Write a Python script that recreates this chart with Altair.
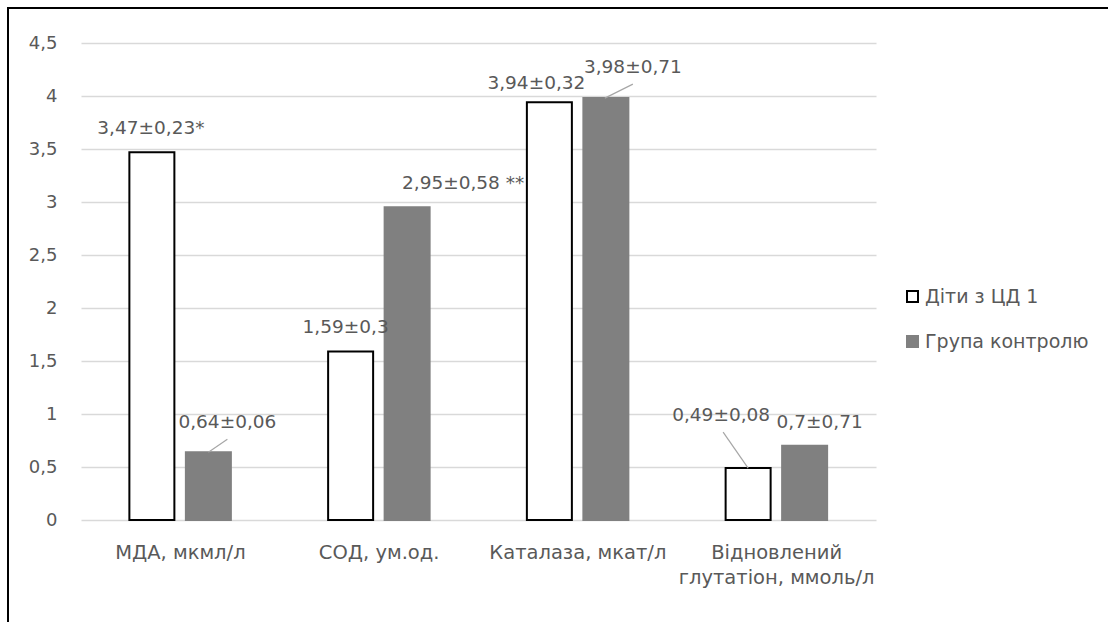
import altair as alt
import pandas as pd

# ---- data -------------------------------------------------------------
categories = ["МДА, мкмл/л", "СОД, ум.од.", "Каталаза, мкат/л", "Відновлений\nглутатіон, ммоль/л"]
series_names = ["Діти з ЦД 1", "Група контролю"]
patients = [3.47, 1.59, 3.94, 0.49]
control = [0.64, 2.95, 3.98, 0.70]
patients_text = ["3,47±0,23*", "1,59±0,3", "3,94±0,32", "0,49±0,08"]
control_text = ["0,64±0,06", "2,95±0,58 **", "3,98±0,71", "0,7±0,71"]
y_ticks = [0, 0.5, 1, 1.5, 2, 2.5, 3, 3.5, 4, 4.5]

# ---- geometry ---------------------------------------------------------
W, H = 795, 477
PAD = {"left": 81, "top": 43, "right": 232, "bottom": 102}
TOTAL_W = W + PAD["left"] + PAD["right"]
TOTAL_H = H + PAD["top"] + PAD["bottom"]
Y_MAX = 4.5
PX_X = W / len(categories)   # pixels per category slot on the x scale
PX_Y = H / Y_MAX             # pixels per unit on the y scale

BAR_W = 45
BAR_SHIFT = [-28.5, 28.0]    # bar centre relative to slot centre, px

# label placement: (dx, dy) in px from the bar centre / bar top
label_nudge = {
    (0, 0): (-1, -24), (1, 0): (-5, -24), (2, 0): (-13, -19), (3, 0): (-27, -53),
    (0, 1): (19, -30), (1, 1): (56, -24), (2, 1): (27, -31), (3, 1): (15, -24),
}
# leader lines: (category, series) -> (start dx, start dy, end dx, end dy) in px
leaders = {
    (0, 1): (0, 0, 19, -13),
    (2, 1): (-1, 0, 27, -14),
    (3, 0): (0, 0, -25, -36),
}

FONT = "DejaVu Sans"
TEXT_COLOR = "#595959"
FS_VALUE = 18.5
FS_AXIS = 18
FS_CAT = 19.5
FS_LEGEND = 19

bar_rows, label_rows, leader_rows = [], [], []
for s, (vals, texts) in enumerate([(patients, patients_text), (control, control_text)]):
    for i, (v, t) in enumerate(zip(vals, texts)):
        c = i + 0.5 + BAR_SHIFT[s] / PX_X
        bar_rows.append({
            "series": series_names[s], "category": categories[i], "value": v,
            "x0": c - BAR_W / 2 / PX_X, "x1": c + BAR_W / 2 / PX_X,
        })
        dx, dy = label_nudge[(i, s)]
        label_rows.append({"text": t, "lx": c + dx / PX_X, "ly": v - dy / PX_Y})
        if (i, s) in leaders:
            ax, ay, bx, by = leaders[(i, s)]
            leader_rows.append({
                "xa": c + ax / PX_X, "ya": v - ay / PX_Y,
                "xb": c + bx / PX_X, "yb": v - by / PX_Y,
            })

bars_df = pd.DataFrame(bar_rows)
labels_df = pd.DataFrame(label_rows)
leaders_df = pd.DataFrame(leader_rows)
cats_df = pd.DataFrame({"name": categories, "pos": [i + 0.5 for i in range(len(categories))]})

x_scale = alt.Scale(domain=[0, len(categories)], nice=False, zero=False, padding=0)
y_scale = alt.Scale(domain=[0, Y_MAX], nice=False, padding=0)

legend = alt.Legend(
    title=None, orient="none", legendX=822, legendY=244,
    symbolType="square", symbolSize=121, symbolStrokeWidth=2,
    labelFont=FONT, labelFontSize=FS_LEGEND, labelColor=TEXT_COLOR, labelLimit=400,
    labelOffset=3, rowPadding=25, padding=0,
)

bars = alt.Chart(bars_df).mark_bar(strokeWidth=2).encode(
    x=alt.X("x0:Q", scale=x_scale, axis=None),
    x2="x1:Q",
    y=alt.Y(
        "value:Q", scale=y_scale,
        axis=alt.Axis(
            title=None, values=y_ticks, domain=False, ticks=False,
            grid=True, gridColor="#d9d9d9", gridWidth=1.5,
            labelFont=FONT, labelFontSize=FS_AXIS, labelColor=TEXT_COLOR, labelPadding=24,
            labelExpr="replace(toString(datum.value), '.', ',')",
        ),
    ),
    y2=alt.datum(0),
    fill=alt.Fill("series:N", scale=alt.Scale(domain=series_names, range=["#ffffff", "#808080"]), legend=legend),
    stroke=alt.Stroke("series:N", scale=alt.Scale(domain=series_names, range=["#000000", "#808080"]), legend=legend),
)

value_labels = alt.Chart(labels_df).mark_text(
    font=FONT, fontSize=FS_VALUE, color=TEXT_COLOR, baseline="middle", align="center",
).encode(
    x=alt.X("lx:Q", scale=x_scale),
    y=alt.Y("ly:Q", scale=y_scale),
    text="text:N",
)

leader_lines = alt.Chart(leaders_df).mark_rule(color="#a6a6a6", strokeWidth=1.2).encode(
    x=alt.X("xa:Q", scale=x_scale), x2="xb:Q",
    y=alt.Y("ya:Q", scale=y_scale), y2="yb:Q",
)

category_labels = alt.Chart(cats_df).mark_text(
    font=FONT, fontSize=FS_CAT, color=TEXT_COLOR, baseline="alphabetic", align="center",
    lineBreak="\n", lineHeight=25, dy=39,
).encode(
    x=alt.X("pos:Q", scale=x_scale),
    y=alt.datum(0),
    text="name:N",
)

frame_src = pd.DataFrame({"k": [0]})
frame_left = alt.Chart(frame_src).mark_rule(color="#000000", strokeWidth=2).encode(
    x=alt.value(-PAD["left"] + 8), y=alt.value(-PAD["top"] + 7), y2=alt.value(TOTAL_H + 10),
)
frame_top = alt.Chart(frame_src).mark_rule(color="#000000", strokeWidth=2).encode(
    x=alt.value(-PAD["left"] + 7), x2=alt.value(TOTAL_W + 10), y=alt.value(-PAD["top"] + 8),
)

chart = alt.layer(
    bars, leader_lines, value_labels, category_labels, frame_left, frame_top,
).properties(
    width=W, height=H, padding=PAD,
    autosize=alt.AutoSizeParams(type="none"),
    background="#ffffff",
).configure_view(stroke=None)

chart.save("out.html", embed_options={"renderer": "svg", "actions": False})
